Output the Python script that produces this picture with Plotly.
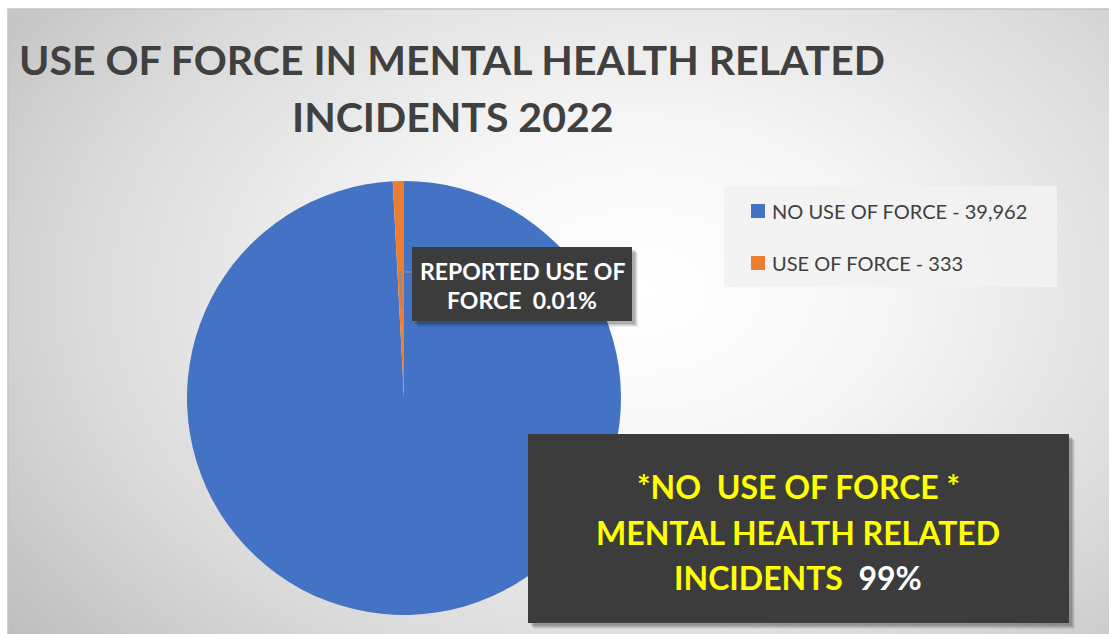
import numpy as np
import plotly.graph_objects as go

W, H = 1109, 634

# Chart data
labels = ["NO USE OF FORCE", "USE OF FORCE"]
values = [39962, 333]
colors = ["#4472C4", "#ED7D31"]

title_lines = ["USE OF FORCE IN MENTAL HEALTH RELATED", "INCIDENTS 2022"]
callout_label = ["REPORTED USE OF", "FORCE  0.01%"]
banner_lines = ["*NO  USE OF FORCE *", "MENTAL HEALTH RELATED", "INCIDENTS"]
banner_pct = "99%"

FONT = "Lato"

fig = go.Figure()

# Soft radial background for the chart area
nx, ny = 120, 70
xs = 8 + (np.arange(nx) + 0.5) * (W - 8) / nx
ys = 9 + (np.arange(ny) + 0.5) * (H - 9) / ny
X, Y = np.meshgrid(xs, ys)
d = np.sqrt(((X - 640) / 680) ** 2 + ((Y - 290) / 470) ** 2)
z = np.clip(d, 0, 1.2)
fig.add_trace(go.Heatmap(
    x=xs, y=ys, z=z, zmin=0, zmax=1.2, zsmooth="best", showscale=False,
    hoverinfo="skip",
    colorscale=[[0, "#ffffff"], [0.3, "#f6f6f6"], [0.7, "#d9d9d9"], [1, "#bcbcbc"]],
))

# Pie
fig.add_trace(go.Pie(
    labels=labels, values=values, sort=False, direction="clockwise", rotation=0,
    marker=dict(colors=colors, line=dict(width=0)),
    textinfo="none", hoverinfo="label+value", showlegend=False,
    domain=dict(x=[187 / W, 621 / W], y=[1 - 615 / H, 1 - 181 / H]),
))

shapes = []
annotations = []

# Chart area border
shapes.append(dict(type="rect", xref="x", yref="y", x0=8, x1=W + 2, y0=9, y1=H + 2,
                   line=dict(color="#c4c4c4", width=1.5), layer="above"))

# Title
for txt, yc in zip(title_lines, [59, 116]):
    annotations.append(dict(x=452, y=yc, xref="x", yref="y", text=f"<b>{txt}</b>",
                            showarrow=False, xanchor="center", yanchor="middle",
                            font=dict(family=FONT, size=41, color="#404040")))


def boxed(x0, y0, x1, y1):
    # soft drop shadow then the dark panel
    for off, a in [(6, 0.06), (5, 0.08), (4, 0.10), (3, 0.12)]:
        shapes.append(dict(type="rect", xref="x", yref="y", x0=x0 + off, x1=x1 + off,
                           y0=y0 + off, y1=y1 + off, fillcolor=f"rgba(0,0,0,{a})",
                           line=dict(width=0), layer="above"))
    shapes.append(dict(type="rect", xref="x", yref="y", x0=x0, x1=x1, y0=y0, y1=y1,
                       fillcolor="#3c3c3c", line=dict(width=0), layer="above"))


# Leader line from the small slice to its label
shapes.append(dict(type="path", xref="x", yref="y", path="M 412 272 L 400 272 L 402 307",
                   line=dict(color="#8c8c8c", width=1.5), layer="above"))

# Slice label
boxed(412, 247, 632, 321)
for txt, yc in zip(callout_label, [271, 300]):
    annotations.append(dict(x=522, y=yc, xref="x", yref="y", text=f"<b>{txt}</b>",
                            showarrow=False, xanchor="center", yanchor="middle",
                            font=dict(family=FONT, size=23, color="#ffffff")))

# Banner
boxed(528, 434, 1069, 623)
for i, (txt, yc) in enumerate(zip(banner_lines, [486, 532, 577])):
    if i == 2:
        txt = f"{txt}  <span style='color:#ffffff'>{banner_pct}</span>"
    annotations.append(dict(x=798, y=yc, xref="x", yref="y", text=f"<b>{txt}</b>",
                            showarrow=False, xanchor="center", yanchor="middle",
                            font=dict(family=FONT, size=32, color="#ffff00")))

# Legend panel
shapes.append(dict(type="rect", xref="x", yref="y", x0=724, x1=1057, y0=186, y1=287,
                   fillcolor="rgba(242,242,242,0.9)", line=dict(width=0), layer="above"))
for lab, val, col, yc in zip(labels, values, colors, [211, 263]):
    shapes.append(dict(type="rect", xref="x", yref="y", x0=751, x1=765, y0=yc - 7, y1=yc + 7,
                       fillcolor=col, line=dict(width=0), layer="above"))
    annotations.append(dict(x=770, y=yc, xref="x", yref="y", text=f"{lab} - {val:,}",
                            showarrow=False, xanchor="left", yanchor="middle",
                            font=dict(family=FONT, size=20, color="#404040")))

fig.update_layout(
    width=W, height=H, margin=dict(l=0, r=0, t=0, b=0),
    paper_bgcolor="#ffffff", plot_bgcolor="#ffffff",
    xaxis=dict(range=[0, W], visible=False, fixedrange=True, domain=[0, 1]),
    yaxis=dict(range=[H, 0], visible=False, fixedrange=True, domain=[0, 1]),
    shapes=shapes, annotations=annotations, showlegend=False,
)

fig.write_html("out.html", config={"displayModeBar": False})
